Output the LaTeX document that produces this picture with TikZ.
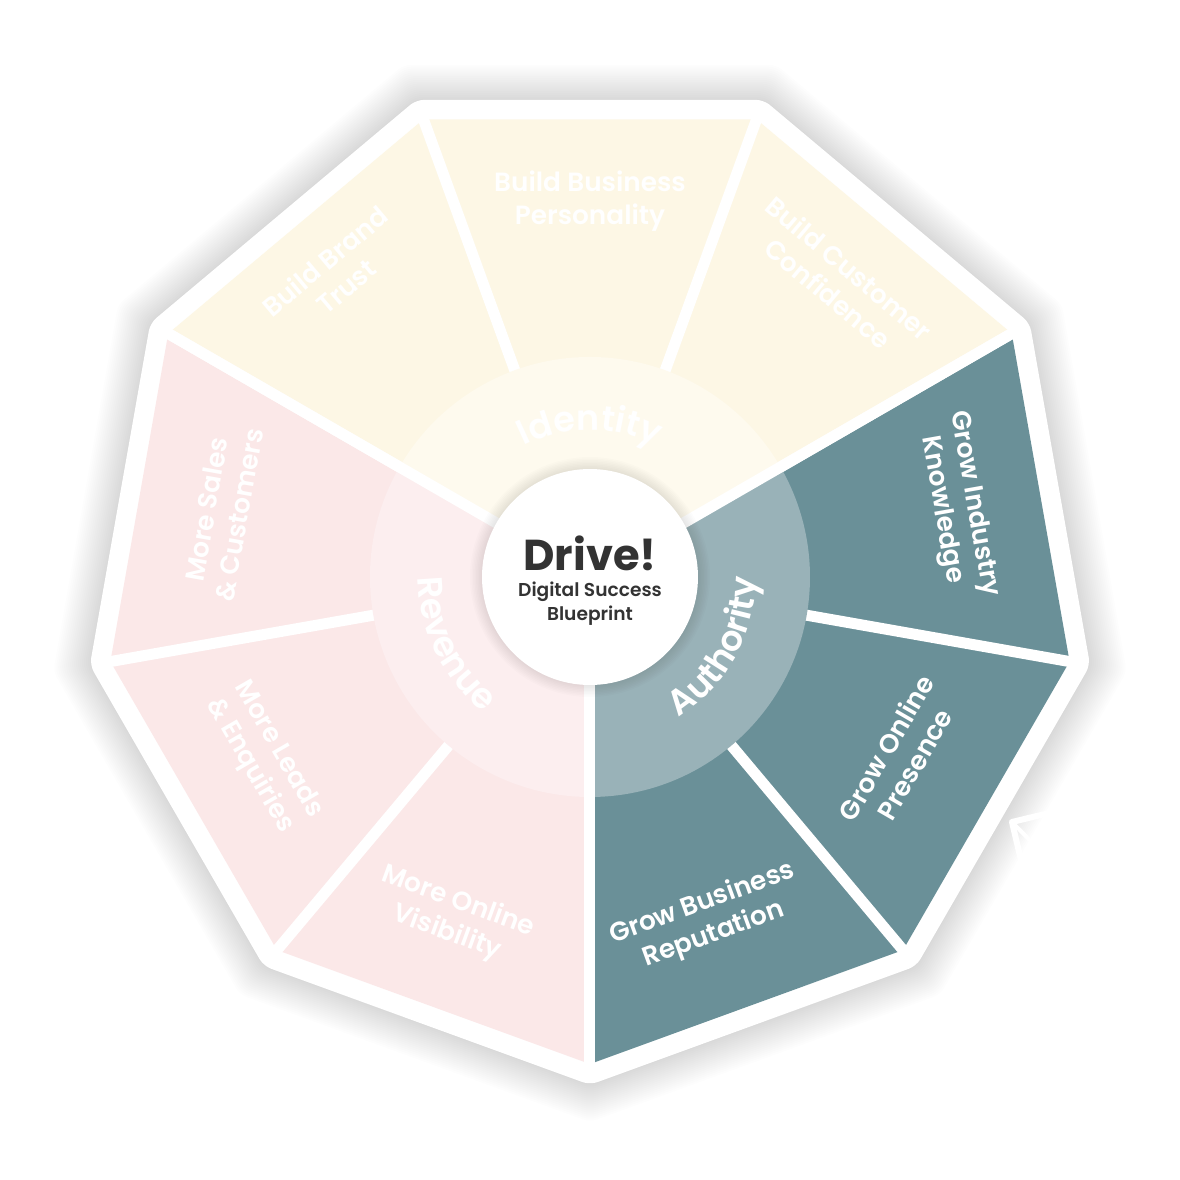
\documentclass[tikz,border=0pt]{standalone}
\usepackage{fontspec}
\setmainfont{Poppins}[BoldFont={Poppins SemiBold}]
\newfontfamily\drivefont{Poppins Bold}
\usepackage{tikz}
\usetikzlibrary{decorations.text}
\definecolor{idseg}{HTML}{FDF7E5}
\definecolor{idring}{HTML}{FEFAEE}
\definecolor{rvseg}{HTML}{FBE8E8}
\definecolor{rvring}{HTML}{FCEEEF}
\definecolor{auseg}{HTML}{6A9098}
\definecolor{auring}{HTML}{99B2B8}
\definecolor{ink}{HTML}{333333}
\newcommand{\ringfont}{\bfseries\fontsize{10}{12}\selectfont}
\tikzset{
    gapline/.style={white, line width=1.1mm},
    seglabel/.style={text=white, font=\bfseries\fontsize{7.5}{9.4}\selectfont, align=center},
    ringlabel/.style={decorate, decoration={text along path, text align=center, text color=white, text={|\ringfont|#1}}}
}

\begin{document}
\begin{tikzpicture}
                        \useasboundingbox (-5.9,-6.03) rectangle (5.9,5.77);
                        \fill[white] (-5.9,-6.03) rectangle (5.9,5.77);
                        \coordinate (c) at (0,0);

                        \foreach \i in {1,...,20} {
                            \pgfmathsetmacro{\r}{5.05+0.02*\i}
                            \fill[black, opacity=0.006, rounded corners=2pt] (-90:\r) \foreach \a in {-50,-10,...,230} { -- (\a:\r) } -- cycle;
                        }
                        \filldraw[white, line width=1.5pt, line join=round, rounded corners=2pt] (-90:5.05) \foreach \a in {-50,-10,...,230} { -- (\a:5.05) } -- cycle;

                        \coordinate (tip) at (4.22,-2.45);
                        \coordinate (arm1) at (4.80,-2.31);
                        \coordinate (arm2) at (4.35,-3.00);
                        \coordinate (shaft) at (4.68,-2.92);
                        \draw[white, line width=0.6mm, line cap=round, line join=round] (arm1) -- (tip) -- (arm2);
                        \draw[white, line width=0.4mm, line cap=round] (tip) -- (shaft);

                        \foreach \a/\col in {-90/auseg,-50/auseg,-10/auseg,30/idseg,70/idseg,110/idseg,150/rvseg,190/rvseg,230/rvseg}
                            \fill[\col, rounded corners=1pt] (c) -- (\a:4.87) -- ({\a+40}:4.87) -- cycle;

                        \foreach \a [count=\k] in {-90,-50,...,230} {
                            \coordinate (v\k) at (\a:4.97);
                            \draw[gapline] (c) -- (v\k);
                        }

                        \fill[idring] (c) -- (30:2.2) arc (30:150:2.2) -- cycle;
                        \fill[rvring] (c) -- (150:2.2) arc (150:270:2.2) -- cycle;
                        \fill[auring] (c) -- (-90:2.2) arc (-90:30:2.2) -- cycle;
                        \draw[gapline] (c) -- (v1);
                        \draw[gapline] (c) -- (v4);
                        \draw[gapline] (c) -- (v7);

                        \foreach \i in {1,...,8}
                            \fill[black, opacity=0.012] (c) circle ({1.08+0.015*\i});
                        \node[circle, fill=white, minimum size=2.16cm, inner sep=0pt] (hub) at (c) {};
                        \node[text=ink, font=\drivefont\fontsize{12.3}{14}\selectfont] (drive) at (0,0.24) {Drive!};
                        \node[text=ink, font=\bfseries\fontsize{5.3}{6.8}\selectfont, align=center] (blueprint) at (0,-0.27) {Digital Success\\Blueprint};

                        \path[ringlabel=Identity] (140:1.47) arc (140:40:1.47);
                        \path[ringlabel=Authority] (-79:1.66) arc (-79:21:1.66);
                        \path[ringlabel=Revenue] (156:1.72) arc (156:256:1.72);

                        \node[seglabel, rotate=40] (trust) at (130:3.96) {Build Brand\\Trust};
                        \node[seglabel] (personality) at (90:3.76) {Build Business\\Personality};
                        \node[seglabel, rotate=-40] (confidence) at (50:3.87) {Build Customer\\Confidence};
                        \node[seglabel, rotate=-80] (knowledge) at (10.8:3.74) {Grow Industry\\Knowledge};
                        \node[seglabel, rotate=60] (presence) at (-30:3.58) {Grow Online\\Presence};
                        \node[seglabel, rotate=20] (reputation) at (-71:3.62) {Grow Business\\Reputation};
                        \node[seglabel, rotate=-20] (visibility) at (-112:3.67) {More Online\\Visibility};
                        \node[seglabel, rotate=-60] (leads) at (-151:3.73) {More Leads\\\& Enquiries};
                        \node[seglabel, rotate=80] (sales) at (170:3.73) {More Sales\\\& Customers};
                    \end{tikzpicture}
\end{document}
